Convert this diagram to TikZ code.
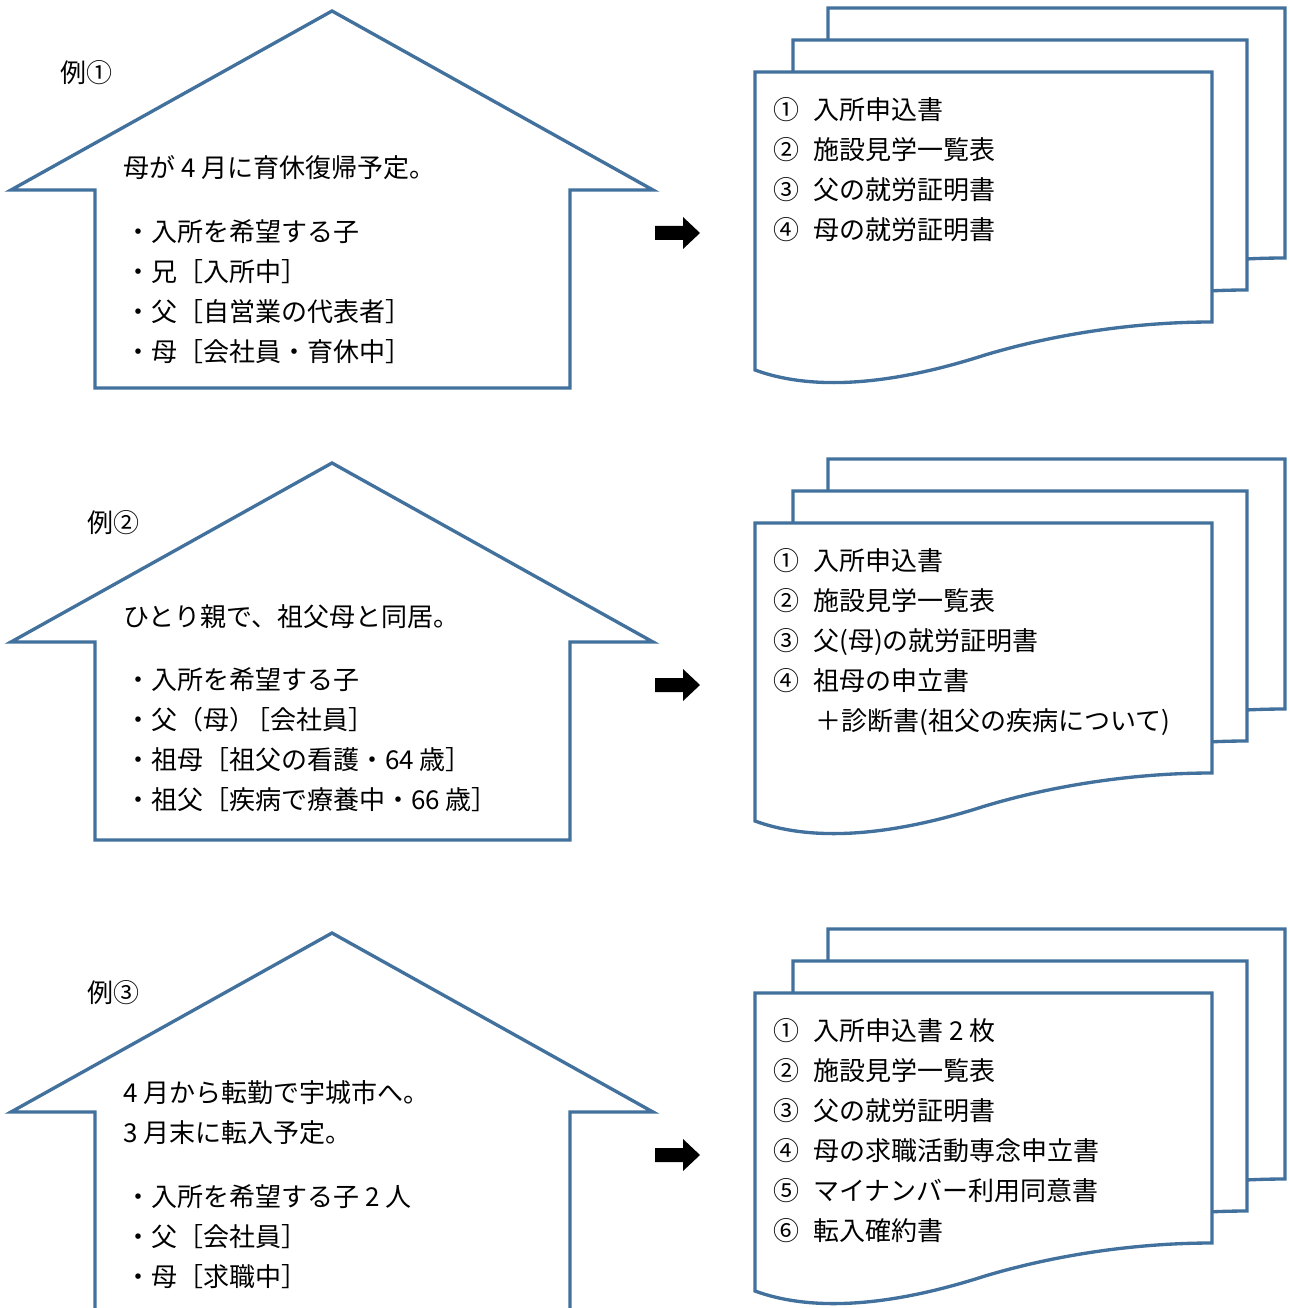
\documentclass[tikz,border=0pt]{standalone}
\usepackage{fontspec}
\setmainfont{Noto Sans CJK JP}
\definecolor{lineblue}{RGB}{65,113,156}
\newcommand{\docsheet}[3]{%
  \filldraw[sheet] (#1,#2) -- ({#1+#3},#2) -- ({#1+#3},{#2+250})
    .. controls ({#1+#3-77},{#2+250}) and ({#1+300},{#2+262}) .. ({#1+230},{#2+283})
    .. controls ({#1+140},{#2+312}) and ({#1+60},{#2+320}) .. (#1,{#2+298}) -- cycle;}
\newcommand{\docstack}[2]{%
  \docsheet{#1+73}{#2-64}{457}\docsheet{#1+38}{#2-32}{454}\docsheet{#1}{#2}{457}}
\newcommand{\blockarrow}[1]{%
  \fill[black] (655,{#1-7}) -- (683,{#1-7}) -- (683,{#1-16}) -- (700,#1) -- (683,{#1+16}) -- (683,{#1+7}) -- (655,{#1+7}) -- cycle;}
\newcommand{\docitem}[2]{\makebox[30pt][l]{#1}#2}
\begin{document}
\begin{tikzpicture}[x=0.75pt,y=-0.75pt,
  sheet/.style={draw=lineblue,fill=white,line width=2.5pt,line join=miter},
  house/.style={draw=lineblue,line width=2.5pt,line join=miter},
  txt/.style={anchor=west,inner sep=0pt,font=\fontsize{19.5pt}{24pt}\selectfont,text height=17pt,text depth=2.4pt}]
\useasboundingbox[fill=white] (0,0) rectangle (1289,1308);
\begin{scope}
\clip (0,0) rectangle (1289,1308);
% houses
\draw[house] (95,388) -- (95,190) -- (11,190) -- (332,11) -- (653,190) -- (570,190) -- (570,388) -- cycle;
\draw[house] (95,840) -- (95,642) -- (11,642) -- (332,463) -- (653,642) -- (570,642) -- (570,840) -- cycle;
\draw[house] (95,1320) -- (95,1112) -- (11,1112) -- (332,933) -- (653,1112) -- (570,1112) -- (570,1320);
\end{scope}
% document stacks
\docstack{755}{72}
\docstack{755}{523}
\docstack{755}{993}
% arrows
\blockarrow{233}
\blockarrow{685}
\blockarrow{1155}
% example 1
\node[txt] (ex1) at (60,73) {例①};
\node[txt] (h1a) at (123,168) {母が 4 月に育休復帰予定。};
\node[txt] (h1b) at (125,232) {・入所を希望する子};
\node[txt] (h1c) at (125,272) {・兄［入所中］};
\node[txt] (h1d) at (125,312) {・父［自営業の代表者］};
\node[txt] (h1e) at (125,352) {・母［会社員・育休中］};
\node[txt] (d1a) at (773,110) {\docitem{①}{入所申込書}};
\node[txt] (d1b) at (773,150) {\docitem{②}{施設見学一覧表}};
\node[txt] (d1c) at (773,190) {\docitem{③}{父の就労証明書}};
\node[txt] (d1d) at (773,230) {\docitem{④}{母の就労証明書}};
% example 2
\node[txt] (ex2) at (87,523) {例②};
\node[txt] (h2a) at (123,617) {ひとり親で、祖父母と同居。};
\node[txt] (h2b) at (125,680) {・入所を希望する子};
\node[txt] (h2c) at (125,720) {・父（母）\kern-0.4em［会社員］};
\node[txt] (h2d) at (125,760) {・祖母［祖父の看護・64 歳］};
\node[txt] (h2e) at (125,800) {・祖父［疾病で療養中・66 歳］};
\node[txt] (d2a) at (773,561) {\docitem{①}{入所申込書}};
\node[txt] (d2b) at (773,601) {\docitem{②}{施設見学一覧表}};
\node[txt] (d2c) at (773,641) {\docitem{③}{父(母)の就労証明書}};
\node[txt] (d2d) at (773,681) {\docitem{④}{祖母の申立書}};
\node[txt] (d2e) at (815,721) {＋診断書(祖父の疾病について)};
% example 3
\node[txt] (ex3) at (87,993) {例③};
\node[txt] (h3a) at (123,1093) {4 月から転勤で宇城市へ。};
\node[txt] (h3b) at (123,1133) {3 月末に転入予定。};
\node[txt] (h3c) at (125,1197) {・入所を希望する子 2 人};
\node[txt] (h3d) at (125,1237) {・父［会社員］};
\node[txt] (h3e) at (125,1277) {・母［求職中］};
\node[txt] (d3a) at (773,1031) {\docitem{①}{入所申込書 2 枚}};
\node[txt] (d3b) at (773,1071) {\docitem{②}{施設見学一覧表}};
\node[txt] (d3c) at (773,1111) {\docitem{③}{父の就労証明書}};
\node[txt] (d3d) at (773,1151) {\docitem{④}{母の求職活動専念申立書}};
\node[txt] (d3e) at (773,1191) {\docitem{⑤}{マイナンバー利用同意書}};
\node[txt] (d3f) at (773,1231) {\docitem{⑥}{転入確約書}};
\end{tikzpicture}
\end{document}
